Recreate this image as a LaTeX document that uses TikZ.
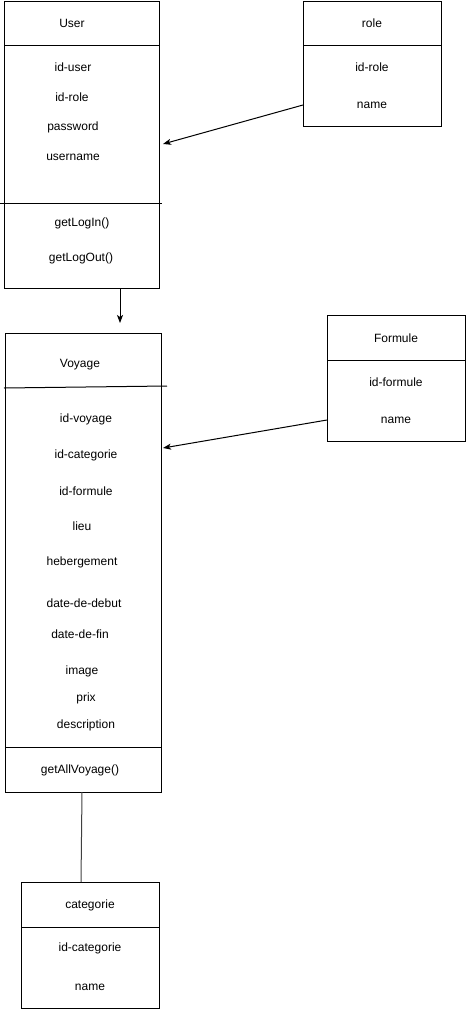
\documentclass[tikz,border=0pt]{standalone}
\usepackage{fontspec}
\setmainfont{Liberation Sans}
\usetikzlibrary{arrows.meta, positioning}

\begin{document}
\begin{tikzpicture}[
                x = 1pt, y = -1pt,
                box/.style={draw=black, line width=1pt, rectangle, inner sep=0pt, anchor=north west},
                field/.style={font=\fontsize{12}{14}\selectfont, inner sep=0pt},
                sep/.style={draw=black, line width=1pt},
                link/.style={line width=1pt, -{Stealth[length=8pt, width=6pt, inset=2pt]}}
            ]

            \useasboundingbox (0,0) rectangle (467,1009);

            % User class
            \node[box, minimum width=155pt, minimum height=287pt] (user) at (4,1) {};
            \draw[sep] (4,45) -- (159,45);
            \draw[sep] (0,203) -- (162,203);
            \node[field] (user-title) at (72,23) {User};
            \node[field] (u-iduser) at (73,67) {id-user};
            \node[field] (u-idrole) at (72,97) {id-role};
            \node[field] (u-password) at (73,127) {password};
            \node[field] (u-username) at (73,157) {username};
            \node[field] (u-login) at (82,223) {getLogIn()};
            \node[field] (u-logout) at (81,258) {getLogOut()};

            % role class
            \node[box, minimum width=138pt, minimum height=125pt] (role) at (303,1) {};
            \draw[sep] (303,45) -- (441,45);
            \node[field] (role-title) at (372,23) {role};
            \node[field] (r-idrole) at (372,67) {id-role};
            \node[field] (r-name) at (372,105) {name};

            % Voyage class
            \node[box, minimum width=156pt, minimum height=459pt] (voyage) at (5,333) {};
            \draw[sep] (4,388) -- (167,386);
            \draw[sep] (5,747) -- (161,747);
            \node[field] (voyage-title) at (80,365) {Voyage};
            \node[field] (v-idvoyage) at (86,419) {id-voyage};
            \node[field] (v-idcategorie) at (86,455) {id-categorie};
            \node[field] (v-idformule) at (86,491) {id-formule};
            \node[field] (v-lieu) at (82,526) {lieu};
            \node[field] (v-hebergement) at (82,562) {hebergement};
            \node[field] (v-debut) at (84,603) {date-de-debut};
            \node[field] (v-fin) at (80,634) {date-de-fin};
            \node[field] (v-image) at (82,671) {image};
            \node[field] (v-prix) at (86,698) {prix};
            \node[field] (v-description) at (86,725) {description};
            \node[field] (v-getall) at (80,770) {getAllVoyage()};

            % Formule class
            \node[box, minimum width=138pt, minimum height=126pt] (formule) at (327,315) {};
            \draw[sep] (327,360) -- (465,360);
            \node[field] (formule-title) at (396,338) {Formule};
            \node[field] (f-idformule) at (396,382) {id-formule};
            \node[field] (f-name) at (396,420) {name};

            % categorie class
            \node[box, minimum width=138pt, minimum height=126pt] (categorie) at (21,882) {};
            \draw[sep] (21,927) -- (159,927);
            \node[field] (categorie-title) at (90,905) {categorie};
            \node[field] (c-idcategorie) at (90,948) {id-categorie};
            \node[field] (c-name) at (90,987) {name};

            % Connections
            \coordinate (user-in) at (163,144);
            \coordinate (voyage-top) at (120,323);
            \coordinate (voyage-in) at (163,448);

            \draw[link] (role.west |- r-name) -- (user-in);
            \draw[link] (voyage-top |- user.south) -- (voyage-top);
            \draw[link] (formule.west |- f-name) -- (voyage-in);
            \draw[line width=1pt, black!75] (82,792) -- (categorie.north -| 81,0);

        \end{tikzpicture}
\end{document}
